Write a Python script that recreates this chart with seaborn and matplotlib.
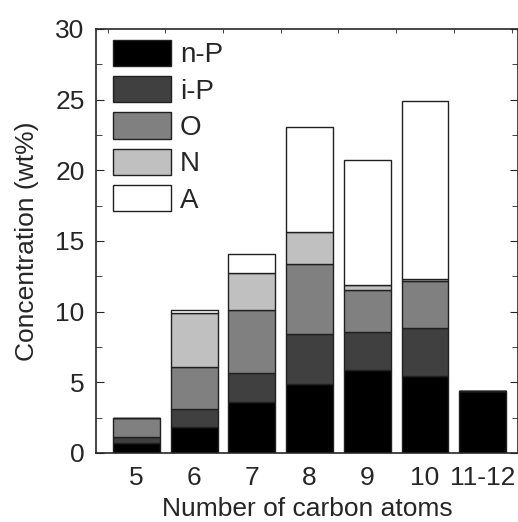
import numpy as np
import pandas as pd
import matplotlib
matplotlib.use('Agg')
import matplotlib.pyplot as plt
import seaborn as sns
from matplotlib.ticker import MultipleLocator

carbons = ['5', '6', '7', '8', '9', '10', '11-12']
n_p = [0.73, 1.83, 3.60, 4.89, 5.90, 5.43, 4.40]
i_p = [0.42, 1.25, 2.07, 3.56, 2.64, 3.39, 0.0]
olef = [1.30, 3.00, 4.42, 4.91, 2.96, 3.38, 0.0]
naph = [0.0, 3.80, 2.68, 2.29, 0.40, 0.13, 0.0]
arom = [0.0, 0.25, 1.30, 7.40, 8.85, 12.57, 0.0]

groups = ['n-P', 'i-P', 'O', 'N', 'A']
colors = ['#000000', '#404040', '#808080', '#c0c0c0', '#ffffff']

df = pd.DataFrame({'carbon': carbons, 'n-P': n_p, 'i-P': i_p, 'O': olef,
                   'N': naph, 'A': arom})

sns.set_style('ticks')
plt.rcParams['font.family'] = ['Liberation Sans', 'DejaVu Sans']

fig = plt.figure(figsize=(5.18, 5.22), dpi=100)
ax = fig.add_axes([95.7 / 518, 1 - 453 / 522, (518 - 95.7) / 518, (453 - 29) / 522])

# stacked bars, one layer per group
bottom = np.zeros(len(carbons))
for g, c in zip(groups, colors):
    sns.barplot(data=df, x='carbon', y=g, color=c, bottom=bottom, width=0.81,
                edgecolor='#202020', linewidth=1.0, label=g, ax=ax,
                saturation=1, errorbar=None)
    bottom = bottom + df[g].values

ax.set_xlim(-0.705, 6.61)
ax.set_ylim(0, 30)
ax.yaxis.set_major_locator(MultipleLocator(5))
ax.yaxis.set_minor_locator(MultipleLocator(2.5))
ax.tick_params(axis='y', which='both', direction='in', left=True, right=True,
               labelsize=19, pad=8)
ax.tick_params(axis='y', which='major', length=6)
ax.tick_params(axis='y', which='minor', length=4)
ax.tick_params(axis='x', which='major', length=0, labelsize=19, pad=9.5)
ax.set_xticks(np.arange(-0.5, 7, 0.5), minor=True)
ax.tick_params(axis='x', which='minor', direction='in', top=True, bottom=False, length=3)
for s in ax.spines.values():
    s.set_linewidth(1.2)

ax.set_xlabel('Number of carbon atoms', fontsize=19, labelpad=5)
ax.set_ylabel('Concentration (wt%)', fontsize=19, labelpad=11.5)

ax.legend(loc='upper left', bbox_to_anchor=(0.04, 0.975), frameon=False,
          fontsize=20, handlelength=2.12, handleheight=1.08, labelspacing=0.28,
          handletextpad=0.31, borderaxespad=0, borderpad=0)

fig.savefig('out.png', dpi=100)
